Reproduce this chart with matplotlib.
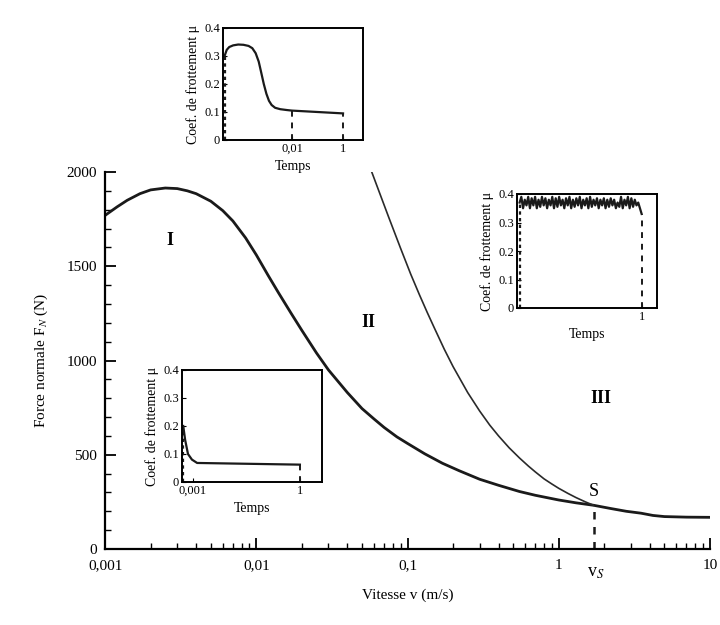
import numpy as np
import matplotlib
matplotlib.use("Agg")
import matplotlib.pyplot as plt
from matplotlib.ticker import FixedLocator, NullLocator, MultipleLocator

plt.rcParams['font.family'] = ['Liberation Serif', 'DejaVu Serif']
plt.rcParams['mathtext.fontset'] = 'stix'

# main chart: normal force vs sliding speed
v_main = [0.001, 0.0012, 0.0014, 0.0017, 0.002, 0.0025, 0.003, 0.0035, 0.004,
          0.005, 0.006, 0.007, 0.0085, 0.01, 0.012, 0.014, 0.017, 0.02, 0.025,
          0.03, 0.04, 0.05, 0.06, 0.07, 0.085, 0.1, 0.13, 0.17, 0.22, 0.3, 0.4,
          0.55, 0.7, 1.0, 1.3, 1.7, 2.2, 2.8, 3.5, 4.2, 5, 7, 10]
f_main = [1770, 1815, 1850, 1885, 1905, 1915, 1912, 1900, 1885,
          1845, 1795, 1740, 1650, 1560, 1450, 1360, 1250, 1160, 1040,
          950, 830, 745, 690, 645, 595, 560, 505, 455, 415, 370, 338,
          305, 285, 260, 245, 232, 215, 200, 190, 178, 172, 169, 168]

v_thin = [0.058, 0.065, 0.075, 0.09, 0.105, 0.12, 0.135, 0.15, 0.175, 0.2, 0.25,
          0.3, 0.35, 0.4, 0.47, 0.55, 0.63, 0.7, 0.8, 0.9, 1.0, 1.15, 1.3, 1.5, 1.7]
f_thin = [2000, 1894, 1761, 1595, 1458, 1348, 1255, 1175, 1060, 968, 830,
          732, 657, 600, 537, 483, 440, 409, 372, 345, 322, 295, 273, 250, 232]

v_s = 1.7
f_s = 232

x_ticks = [0.001, 0.01, 0.1, 1, 10]
x_labels = ['0,001', '0,01', '0,1', '1', '10']
y_ticks = [0, 500, 1000, 1500, 2000]

# inset 1 (region I): friction coefficient vs time
t1 = [2.3e-5, 2.8e-5, 3.5e-5, 5e-5, 7.9e-5, 1.26e-4, 2e-4, 2.8e-4, 3.8e-4, 5e-4,
      6.3e-4, 7.9e-4, 1e-3, 1.26e-3, 1.6e-3, 2.2e-3, 3.5e-3, 6.3e-3, 0.01, 0.1, 1.0]
mu1 = [0.30, 0.322, 0.332, 0.338, 0.341, 0.340, 0.336, 0.328, 0.31, 0.28,
       0.24, 0.20, 0.165, 0.14, 0.125, 0.115, 0.11, 0.107, 0.105, 0.1, 0.095]

# inset 2 (region II): stick-slip, noisy
mu2 = [0.37, 0.39, 0.35, 0.38, 0.36, 0.39, 0.35, 0.385, 0.36, 0.39, 0.35, 0.38,
       0.355, 0.39, 0.36, 0.385, 0.35, 0.38, 0.36, 0.39, 0.35, 0.385, 0.355, 0.39,
       0.36, 0.38, 0.35, 0.385, 0.36, 0.39, 0.35, 0.38, 0.355, 0.385, 0.36, 0.39,
       0.35, 0.38, 0.36, 0.385, 0.35, 0.39, 0.355, 0.38, 0.36, 0.385, 0.35, 0.38,
       0.36, 0.385, 0.35, 0.38, 0.355, 0.385, 0.36, 0.38, 0.35, 0.37, 0.355, 0.39,
       0.35, 0.38, 0.36, 0.39, 0.35, 0.385, 0.355, 0.38, 0.36, 0.37, 0.35, 0.33]
t2 = np.geomspace(1.6e-5, 1.0, len(mu2))

# inset 3 (region III)
t3 = [5.3e-4, 6.0e-4, 7.2e-4, 9.3e-4, 1.3e-3, 1.0]
mu3 = [0.2, 0.15, 0.1, 0.08, 0.068, 0.062]

fig = plt.figure(figsize=(7.2, 6.25), dpi=100)
ax = fig.add_axes([0.146, 0.1216, 0.84, 0.6032])

ax.plot(v_main, f_main, color='#1a1a1a', lw=2.0)
ax.plot(v_thin, f_thin, color='#2a2a2a', lw=1.2)
ax.plot([v_s, v_s], [0, f_s], color='#1a1a1a', lw=1.8, ls=(0, (3, 3)))

ax.set_xscale('log')
ax.set_xlim(0.001, 10)
ax.set_ylim(0, 2000)
ax.set_xticks(x_ticks)
ax.set_xticklabels(x_labels)
ax.set_yticks(y_ticks)
ax.yaxis.set_minor_locator(MultipleLocator(100))
ax.spines['top'].set_visible(False)
ax.spines['right'].set_visible(False)
for s in ['left', 'bottom']:
    ax.spines[s].set_linewidth(1.6)
ax.tick_params(which='major', direction='in', length=8, width=1.3, labelsize=11)
ax.tick_params(which='minor', direction='in', length=4, width=1.0)
ax.tick_params(axis='x', pad=7)
ax.tick_params(axis='y', pad=6)
ax.set_xlabel('Vitesse v (m/s)', fontsize=11, labelpad=12)
ax.set_ylabel('Force normale F$_N$ (N)', fontsize=11, labelpad=12)

ax.text(0.0027, 1637, 'I', fontsize=13, fontweight='bold', ha='center', va='center')
ax.text(0.0553, 1203, 'II', fontsize=13, fontweight='bold', ha='center', va='center')
ax.text(1.9, 800, 'III', fontsize=13, fontweight='bold', ha='center', va='center')
ax.text(v_s, f_s + 30, 'S', fontsize=13, ha='center', va='bottom')
ax.text(v_s * 1.03, -80, 'v$_S$', fontsize=13, ha='center', va='top')


def inset(rect, t, mu, xlim, xt, xtl, dash_x):
    a = fig.add_axes(rect)
    a.plot(t, mu, color='#1a1a1a', lw=1.6)
    a.plot([t[0], t[0]], [0, mu[0]], color='#1a1a1a', lw=1.6, ls=(0, (1.5, 1.5)))
    for x in dash_x:
        a.plot([x, x], [0, np.interp(np.log10(x), np.log10(t), mu)],
               color='#1a1a1a', lw=1.4, ls=(0, (3, 3)))
    a.set_xscale('log')
    a.set_xlim(*xlim)
    a.set_ylim(0, 0.4)
    a.xaxis.set_major_locator(FixedLocator(xt))
    a.xaxis.set_minor_locator(NullLocator())
    a.set_xticklabels(xtl)
    a.set_yticks([0, 0.1, 0.2, 0.3, 0.4])
    a.set_yticklabels(['0', '0.1', '0.2', '0.3', '0.4'])
    a.tick_params(direction='in', length=3, labelsize=9, pad=2)
    for s in a.spines.values():
        s.set_linewidth(1.4)
    a.set_xlabel('Temps', fontsize=10, labelpad=4)
    a.set_ylabel('Coef. de frottement μ', fontsize=10, labelpad=3)
    return a


inset([0.3097, 0.776, 0.1944, 0.1792], t1, mu1, (10 ** -4.7, 10 ** 0.78),
      [0.01, 1], ['0,01', '1'], [0.01, 1])
inset([0.718, 0.5072, 0.1944, 0.1824], t2, mu2, (10 ** -4.9, 10 ** 0.6),
      [1], ['1'], [1])
inset([0.2528, 0.2288, 0.1944, 0.1792], t3, mu3, (10 ** -3.31, 10 ** 0.62),
      [0.001, 1], ['0,001', '1'], [1])

fig.savefig('out.png', dpi=100)
